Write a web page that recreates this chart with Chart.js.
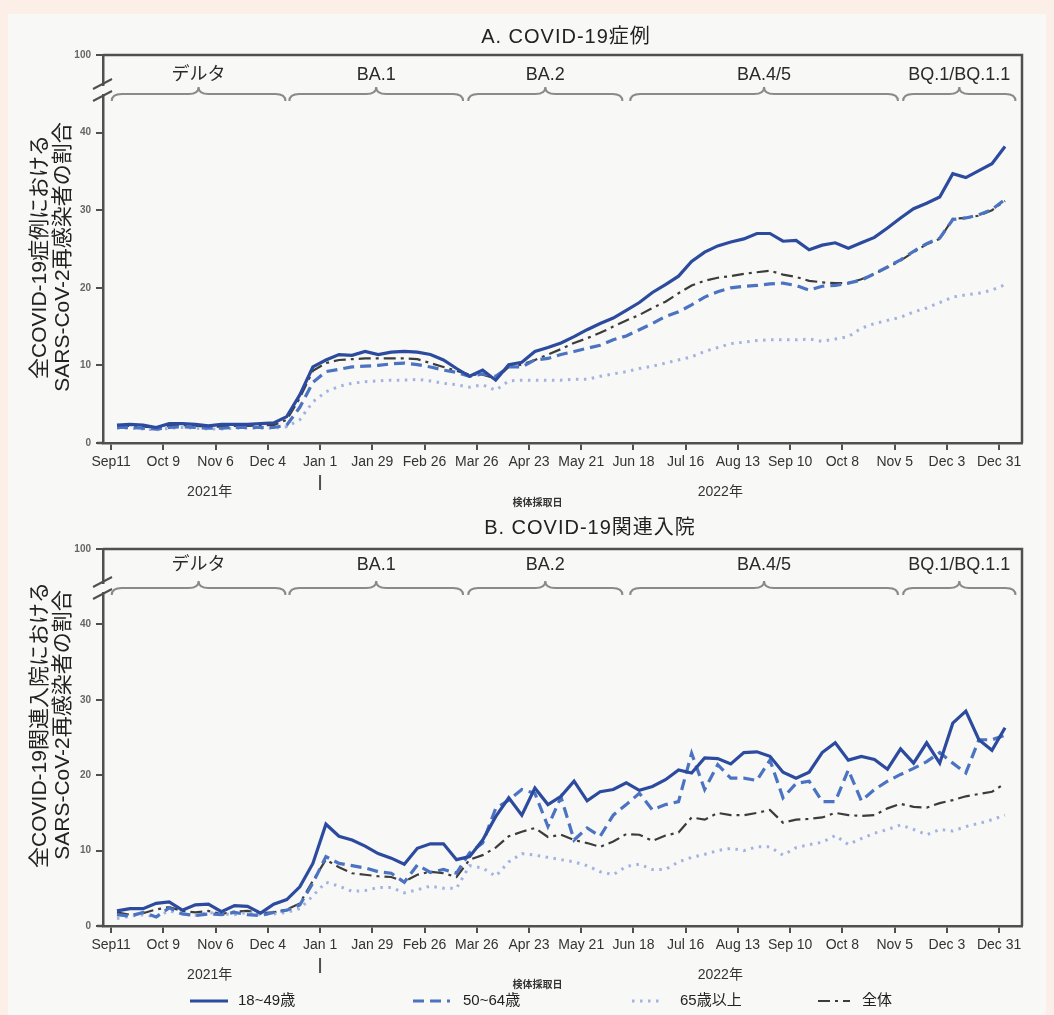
<!DOCTYPE html>
<html><head><meta charset="utf-8">
<script src="https://cdn.jsdelivr.net/npm/chart.js@4.4.1/dist/chart.umd.min.js"></script>
<style>
html,body{margin:0;padding:0;background:#fcefe8;}
#page{position:relative;width:1054px;height:1015px;overflow:hidden;}
#inner{position:absolute;left:8px;top:14px;width:1038px;height:1001px;background:#f8f8f6;}
canvas{position:absolute;left:0;}
#cA{top:0px}
#cB{top:505px}
</style></head><body>
<div id="page"><div id="inner"></div>
<canvas id="cA" width="1054" height="510"></canvas>
<canvas id="cB" width="1054" height="510"></canvas>
</div>
<script>
// ---------- data ----------
const weekIndex = Array.from({length: 69}, (_, i) => i); // weekly, Sep 11 2021 .. Dec 31 2022
const tickWeeks = [0,4,8,12,16,20,24,28,32,36,40,44,48,52,56,60,64,68];
const tickLabels = ['Sep11','Oct 9','Nov 6','Dec 4','Jan 1','Jan 29','Feb 26','Mar 26','Apr 23','May 21','Jun 18','Jul 16','Aug 13','Sep 10','Oct 8','Nov 5','Dec 3','Dec 31'];
const seriesNames = ['18~49歳','50~64歳','65歳以上','全体'];
const variantNames = ['デルタ','BA.1','BA.2','BA.4/5','BQ.1/BQ.1.1'];
const variantStart = [-0.4, 13.2, 26.9, 39.3, 60.2];
const variantEnd   = [12.9, 26.5, 38.7, 59.8, 68.8];
const yTicks = [0,10,20,30,40,50];
const yTickLabels = ['0','10','20','30','40','100'];

const casesAge18_49 = [2.3,2.4,2.3,2.0,2.5,2.5,2.4,2.2,2.4,2.4,2.4,2.5,2.6,3.4,6.2,9.8,10.7,11.4,11.3,11.8,11.4,11.7,11.8,11.7,11.4,10.7,9.6,8.6,9.4,8.1,10.1,10.4,11.8,12.3,12.9,13.7,14.6,15.4,16.1,17.1,18.1,19.4,20.4,21.5,23.4,24.6,25.4,25.9,26.3,27.0,27.0,26.0,26.1,24.9,25.5,25.8,25.1,25.8,26.5,27.7,29.0,30.2,30.9,31.7,34.7,34.2,35.1,36.0,38.2];
const casesAge50_64 = [2.0,2.0,1.9,1.8,2.0,2.1,2.0,1.9,1.9,2.0,2.0,2.0,2.0,2.3,4.6,7.8,9.2,9.5,9.8,9.9,10.0,10.2,10.3,10.1,9.8,9.4,9.1,8.6,8.9,8.6,9.8,9.8,10.7,10.9,11.4,11.8,12.2,12.6,13.3,13.8,14.6,15.4,16.3,16.9,17.8,18.8,19.5,20.0,20.2,20.3,20.5,20.6,20.3,19.7,20.2,20.3,20.6,21.0,21.8,22.7,23.6,24.7,25.7,26.4,28.8,29.0,29.4,30.1,31.4];
const casesAge65up  = [1.9,1.9,1.8,1.7,1.9,2.0,1.9,1.8,1.8,1.9,1.9,1.9,1.9,2.1,3.0,5.3,6.6,7.3,7.7,7.9,8.0,8.1,8.1,8.2,8.0,7.7,7.5,7.2,7.5,6.8,8.0,8.1,8.1,8.1,8.1,8.2,8.2,8.6,8.9,9.2,9.6,9.9,10.3,10.7,11.1,11.8,12.3,12.8,13.0,13.2,13.3,13.3,13.3,13.4,13.1,13.4,13.7,14.8,15.4,15.8,16.2,16.9,17.4,18.1,18.8,19.1,19.3,19.7,20.4];
const casesAll      = [2.2,2.2,2.1,2.0,2.2,2.3,2.2,2.1,2.1,2.2,2.2,2.3,2.3,3.0,5.8,9.3,10.3,10.7,10.8,10.9,10.9,10.9,10.9,10.8,10.3,9.8,9.3,8.8,8.8,8.3,9.8,10.1,10.7,11.4,12.1,12.9,13.5,14.2,15.0,15.8,16.5,17.4,18.2,19.3,20.3,20.9,21.3,21.5,21.8,22.0,22.2,21.7,21.4,20.9,20.7,20.6,20.6,21.1,21.8,22.6,23.5,24.6,25.6,26.3,28.9,29.0,29.3,30.0,31.2];

const hospAge18_49 = [2.0,2.3,2.3,3.0,3.2,2.1,2.8,2.9,1.9,2.7,2.6,1.7,2.9,3.5,5.2,8.3,13.5,11.9,11.4,10.6,9.6,9.0,8.2,10.3,10.9,10.9,8.8,9.2,11.4,14.5,17.0,14.7,18.3,16.1,17.2,19.2,16.6,17.8,18.1,19.0,18.0,18.5,19.4,20.7,20.3,22.3,22.2,21.5,23.0,23.1,22.5,20.4,19.6,20.4,23.0,24.3,22.0,22.5,22.1,20.8,23.5,21.6,24.3,21.6,26.9,28.5,24.7,23.3,26.3];
const hospAge50_64 = [1.5,1.3,1.8,1.2,2.4,1.6,1.4,1.6,1.5,1.8,1.5,1.4,1.8,2.1,2.8,5.7,9.2,8.3,8.0,7.7,7.2,7.0,5.8,8.1,7.1,7.5,7.0,9.7,11.0,15.6,16.7,18.1,17.6,13.2,17.1,11.4,13.0,11.9,14.7,16.1,17.6,15.4,16.1,16.5,22.9,18.1,21.4,19.6,19.6,19.3,22.0,17.0,18.9,19.2,16.5,16.5,20.7,16.6,18.1,19.2,20.1,20.9,21.8,23.0,21.6,20.3,24.7,24.7,25.3];
const hospAge65up  = [1.0,1.3,1.5,1.2,2.0,1.6,1.4,1.8,1.6,1.5,1.8,1.5,1.6,1.8,2.3,4.0,5.8,5.3,4.6,4.7,5.1,5.1,4.4,4.8,5.3,5.0,5.0,8.0,7.7,6.6,8.5,9.6,9.4,9.1,8.8,8.5,8.0,7.2,6.8,7.9,8.2,7.5,7.5,8.5,9.1,9.5,10.0,10.3,10.0,10.5,10.5,9.4,10.4,10.8,11.1,12.0,10.8,11.6,12.3,12.8,13.4,12.8,12.1,12.8,12.6,13.2,13.6,14.1,14.7];
const hospAll      = [1.8,1.5,1.7,2.2,2.5,2.0,1.8,2.0,1.6,1.9,2.0,1.7,1.8,2.2,3.0,6.0,8.8,7.8,7.0,6.8,6.6,6.5,5.9,6.8,7.2,7.0,6.5,8.8,9.4,10.4,11.9,12.5,13.0,11.8,12.1,11.4,11.0,10.5,11.2,12.2,12.1,11.3,12.0,12.4,14.4,14.1,15.0,14.7,14.7,15.0,15.4,13.7,14.1,14.2,14.4,15.0,14.7,14.6,14.7,15.6,16.2,15.8,15.7,16.3,16.7,17.2,17.5,17.8,18.9];

// ---------- styles ----------
const FONT = '"Liberation Sans","Noto Sans CJK JP",sans-serif';
const BG = '#f8f8f6';
const AXIS = '#505050';
const styles = [
  {borderColor:'#2c4b9e', borderWidth:3.2, borderDash:[]},
  {borderColor:'#4b73c2', borderWidth:3.2, borderDash:[11,6]},
  {borderColor:'#a2b2e2', borderWidth:3, borderDash:[2.5,5.5]},
  {borderColor:'#3c3c3c', borderWidth:2.2, borderDash:[12,5,3,5]}
];
const TICK_SHIFT = -0.45;

function toXY(arr){ return arr.map((v,i)=>({x:weekIndex[i], y:v})); }

function brace(ctx,x0,x1,y){
  const xm=(x0+x1)/2, h=7, r=10;
  ctx.beginPath();
  ctx.moveTo(x0, y+h);
  ctx.quadraticCurveTo(x0, y, x0+r, y);
  ctx.lineTo(xm-r, y);
  ctx.quadraticCurveTo(xm, y, xm, y-h);
  ctx.quadraticCurveTo(xm, y, xm+r, y);
  ctx.lineTo(x1-r, y);
  ctx.quadraticCurveTo(x1, y, x1, y+h);
  ctx.stroke();
}

const deco = {
  id:'deco',
  afterDraw(chart, args, o){
    const ctx=chart.ctx, ca=chart.chartArea, xs=chart.scales.x;
    ctx.save();
    // frame top & right
    ctx.strokeStyle=AXIS; ctx.lineWidth=2.5; ctx.setLineDash([]);
    ctx.beginPath(); ctx.moveTo(ca.left, ca.top); ctx.lineTo(ca.right, ca.top); ctx.lineTo(ca.right, ca.bottom); ctx.stroke();
    ctx.beginPath(); ctx.moveTo(ca.left-6, ca.bottom); ctx.lineTo(ca.left, ca.bottom); ctx.stroke();
    // axis break
    ctx.fillStyle=BG;
    ctx.fillRect(ca.left-3, ca.top+o.brk[0]+2, 6, o.brk[1]-o.brk[0]-4);
    ctx.strokeStyle=AXIS; ctx.lineWidth=2;
    for(const dy of o.brk){ ctx.beginPath(); ctx.moveTo(ca.left-10, ca.top+dy+5); ctx.lineTo(ca.left+9, ca.top+dy-5); ctx.stroke(); }
    // variant braces
    ctx.strokeStyle='#8a8a8a'; ctx.lineWidth=2;
    ctx.fillStyle='#2a2a2a'; ctx.textAlign='center'; ctx.textBaseline='middle';
    ctx.font='18px '+FONT;
    variantNames.forEach((n,k)=>{
      const x0=xs.getPixelForValue(variantStart[k]), x1=xs.getPixelForValue(variantEnd[k]);
      brace(ctx,x0,x1,ca.top+39);
      ctx.fillText(n,(x0+x1)/2,ca.top+o.varY);
    });
    // title
    ctx.font='20px '+FONT; ctx.fillStyle='#222';
    try{ ctx.letterSpacing='1px'; }catch(e){}
    ctx.fillText(o.title, o.titleX, o.titleY);
    try{ ctx.letterSpacing='0px'; }catch(e){}
    // y axis title
    ctx.font='21px '+FONT;
    ctx.save(); ctx.translate(40, o.yTitleCY); ctx.rotate(-Math.PI/2); ctx.fillText(o.yTitle[0],0,0); ctx.restore();
    ctx.save(); ctx.translate(63, o.yTitleCY); ctx.rotate(-Math.PI/2); ctx.fillText(o.yTitle[1],0,0); ctx.restore();
    // Jan 1 marker and year labels
    const xj=xs.getPixelForValue(16+TICK_SHIFT);
    ctx.strokeStyle=AXIS; ctx.lineWidth=2;
    ctx.beginPath(); ctx.moveTo(xj, ca.bottom+32); ctx.lineTo(xj, ca.bottom+47); ctx.stroke();
    ctx.font='14px '+FONT; ctx.fillStyle='#333';
    ctx.fillText('2021年', xs.getPixelForValue(7.1), ca.bottom+49);
    ctx.fillText('2022年', xs.getPixelForValue(46.2), ca.bottom+49);
    ctx.font='bold 10px '+FONT;
    ctx.fillText('検体採取日', xs.getPixelForValue(32.2), ca.bottom+o.sampleDY);
    // legend
    if(o.legend){
      const items=[[190,228,238],[413,450,463],[632,660,680],[818,850,862]];
      chart.data.datasets.forEach((ds,k)=>{
        const it=items[k];
        ctx.strokeStyle=ds.borderColor; ctx.lineWidth=ds.borderWidth; ctx.setLineDash(ds.borderDash||[]);
        ctx.beginPath(); ctx.moveTo(it[0], o.legendY); ctx.lineTo(it[1], o.legendY); ctx.stroke();
        ctx.setLineDash([]);
        ctx.fillStyle='#222'; ctx.font='15px '+FONT; ctx.textAlign='left';
        ctx.fillText(ds.label, it[2], o.legendY);
      });
    }
    ctx.restore();
  }
};

function makeChart(id, series, deco_opts, pad){
  return new Chart(document.getElementById(id), {
    type:'line',
    data:{ datasets: series.map((s,k)=>Object.assign({label:seriesNames[k], data:toXY(s), pointRadius:0, tension:0, fill:false, borderCapStyle:'butt'}, styles[k])) },
    options:{
      responsive:false, animation:false,
      layout:{autoPadding:false, padding:pad},
      plugins:{legend:{display:false}, tooltip:{enabled:false}, deco:deco_opts},
      scales:{
        x:{type:'linear', min:-1.07, max:69.3,
           afterBuildTicks:(s)=>{ s.ticks=tickWeeks.map(v=>({value:v+TICK_SHIFT})); },
           afterFit:(s)=>{ s.height=40; },
           ticks:{autoSkip:false, maxRotation:0, padding:4, color:'#333', font:{family:FONT, size:14}, callback:(v,i)=>tickLabels[i]},
           grid:{display:true, drawOnChartArea:false, drawTicks:true, tickLength:7, color:AXIS, lineWidth:2},
           border:{display:true, color:AXIS, width:2.5}},
        y:{type:'linear', min:0, max:50,
           afterBuildTicks:(s)=>{ s.ticks=yTicks.map(v=>({value:v})); },
           afterFit:(s)=>{ s.width=103; },
           ticks:{padding:5, color:'#666', font:{family:FONT, size:10, weight:'bold'}, callback:(v)=>yTickLabels[yTicks.indexOf(v)]},
           grid:{display:true, drawOnChartArea:false, drawTicks:true, tickLength:7, color:AXIS, lineWidth:2},
           border:{display:true, color:AXIS, width:2.5}}
      }
    },
    plugins:[deco]
  });
}

makeChart('cA', [casesAge18_49, casesAge50_64, casesAge65up, casesAll],
  {title:'A. COVID-19症例', titleX:566, titleY:37, brk:[29,41], varY:20, yTitleCY:257,
   yTitle:['全COVID-19症例における','SARS-CoV-2再感染者の割合'], sampleDY:60, legend:false},
  {top:55, left:0, right:32, bottom:510-443-40});
makeChart('cB', [hospAge18_49, hospAge50_64, hospAge65up, hospAll],
  {title:'B. COVID-19関連入院', titleX:590, titleY:23, brk:[33,45], varY:16, yTitleCY:220,
   yTitle:['全COVID-19関連入院における','SARS-CoV-2再感染者の割合'], sampleDY:59, legend:true, legendY:496},
  {top:44, left:0, right:32, bottom:510-421-40});
</script>
</body></html>
